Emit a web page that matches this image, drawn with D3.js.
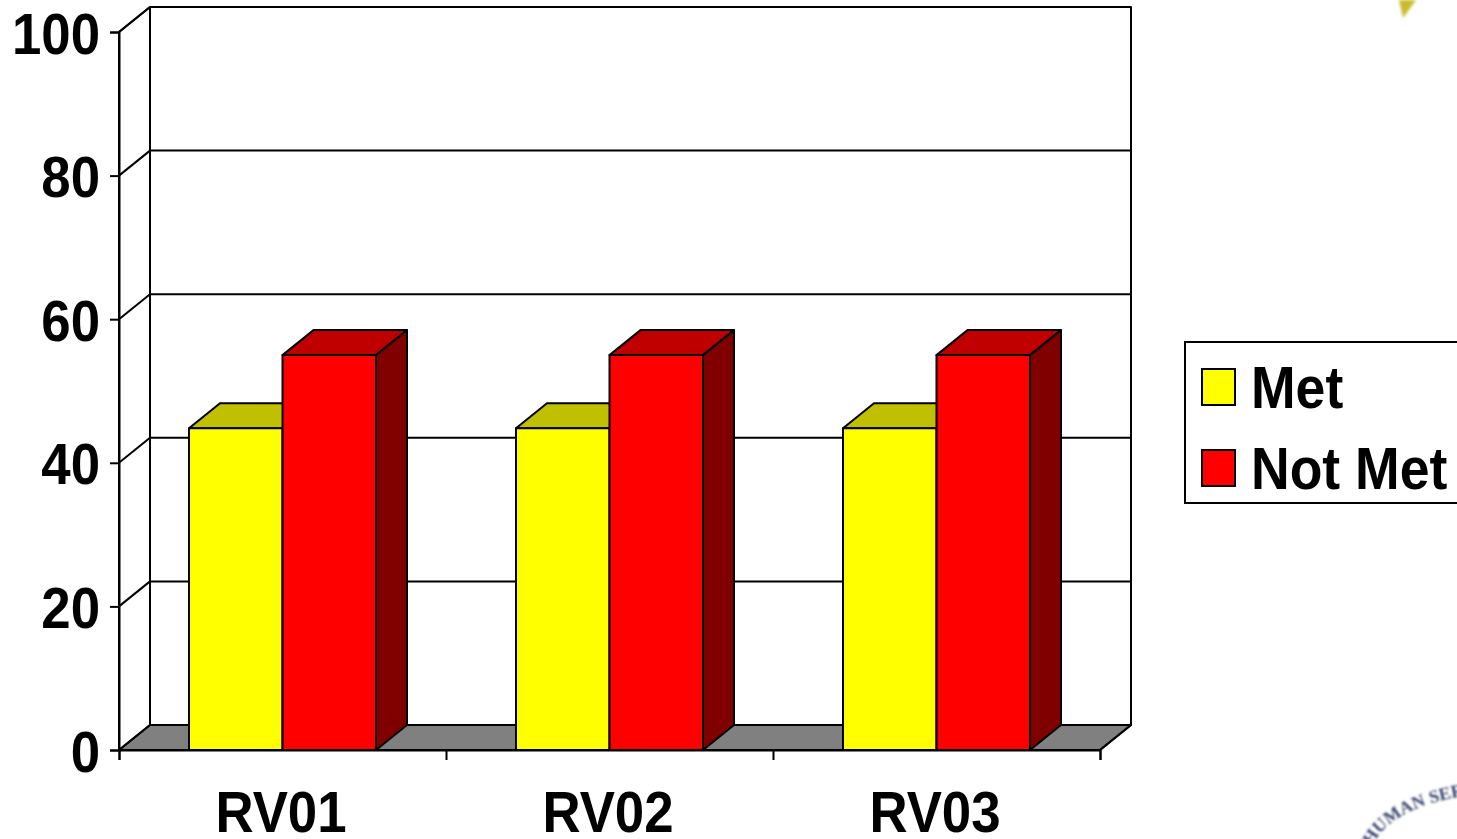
<!DOCTYPE html>
<html><head><meta charset="utf-8">
<script src="https://cdnjs.cloudflare.com/ajax/libs/d3/7.8.5/d3.min.js"></script>
<style>html,body{margin:0;padding:0;background:#fff;overflow:hidden}text{font-family:"Liberation Sans",Arial,sans-serif;font-weight:700;fill:#000}</style>
</head><body><svg id="c" width="1457" height="839"></svg>
<script>
const categories = ["RV01","RV02","RV03"];
const seriesNames = ["Met","Not Met"];
const metValues = [44.8,44.8,44.8];
const notMetValues = [55,55,55];
const yTicks = [0,20,40,60,80,100];
const seriesValues = [metValues, notMetValues];
const colors = {front:["#ffff00","#ff0000"], top:["#c0c000","#c00000"], side:["#808000","#800000"]};

const svg = d3.select("#c");
const dx = 31, dy = -25;
const y = d3.scaleLinear().domain([0,100]).range([750,32]);
const x0 = d3.scaleBand().domain(categories).range([119,1100]);
const x1 = d3.scaleBand().domain(seriesNames).range([70,257]);
const line = d3.line();
const blk = {stroke:"#000","stroke-width":2,"stroke-linejoin":"round"};
const style = (s,o)=>{for(const k in o)s.attr(k,o[k]);return s;};
const FS = 58, SX = 0.91;

const defs = svg.append("defs");
defs.append("filter").attr("id","b1").append("feGaussianBlur").attr("stdDeviation",1.6);
defs.append("filter").attr("id","b2").append("feGaussianBlur").attr("stdDeviation",1);
defs.append("path").attr("id","arc").attr("d","M1372,846 Q1392,806 1470,795");
svg.append("path").attr("d",d3.line()([[1399,0],[1416,0],[1403,18]])).attr("fill","#c9bb2c").attr("filter","url(#b1)");
svg.append("text").attr("filter","url(#b2)").style("font-family","Liberation Serif").style("font-size","18px").style("fill","#39456e")
  .append("textPath").attr("href","#arc").text("HUMAN SERV");

const x = x0.range()[0], xR = x0.range()[1];
svg.append("path").attr("d",line([[x,y(0)],[x+dx,y(0)+dy],[xR+dx,y(0)+dy],[xR,y(0)]])+"Z").attr("fill","#808080").call(style,blk);
svg.append("rect").attr("x",x+dx).attr("y",y(100)+dy).attr("width",xR-x).attr("height",y(0)-y(100)).attr("fill","#fff").call(style,blk);
yTicks.forEach(t=>{
  svg.append("path").attr("fill","none").attr("d",line([[x,y(t)],[x+dx,y(t)+dy],[xR+dx,y(t)+dy]])).call(style,blk);
});
svg.append("path").attr("fill","none").attr("d",line([[x,y(0)],[x,y(100)],[x+dx,y(100)+dy]])).call(style,blk);
svg.append("path").attr("fill","none").attr("d",line([[x+dx,y(0)+dy],[x+dx,y(100)+dy]])).call(style,blk);
svg.append("path").attr("fill","none").attr("d",line([[xR,y(0)],[xR+dx,y(0)+dy],[xR+dx,y(100)+dy]])).call(style,blk);

categories.forEach((c,ci)=>{
  seriesNames.forEach((s,si)=>{
    const l = x0(c)+x1(s), r = l+x1.bandwidth(), t = y(seriesValues[si][ci]), b = y(0);
    svg.append("path").attr("d",line([[l,t],[l+dx,t+dy],[r+dx,t+dy],[r,t]])+"Z").attr("fill",colors.top[si]).call(style,blk);
    svg.append("path").attr("d",line([[r,t],[r+dx,t+dy],[r+dx,b+dy],[r,b]])+"Z").attr("fill",colors.side[si]).call(style,blk);
    svg.append("rect").attr("x",l).attr("y",t).attr("width",r-l).attr("height",b-t).attr("fill",colors.front[si]).call(style,blk);
  });
});

const yAxis = d3.axisLeft(y).tickValues(yTicks).tickSize(9);
const gy = svg.append("g").attr("transform",`translate(${x},0)`).call(yAxis);
const xAxis = d3.axisBottom(d3.scaleLinear().domain([0,3]).range([x,xR])).tickValues([0,1,2,3]).tickSize(10).tickFormat("");
const gx = svg.append("g").attr("transform",`translate(0,${y(0)})`).call(xAxis);
[gy,gx].forEach(g=>{g.selectAll("path,line").attr("stroke","#000").attr("stroke-width",2);});
gy.selectAll("text").style("font-size",FS+"px").style("font-family","Liberation Sans").style("font-weight","700")
  .attr("fill","#000").attr("x",0).attr("dy",0).attr("text-anchor","end")
  .attr("transform",`translate(-19,21) scale(${SX},1)`);
svg.selectAll(".cat").data(categories).join("text").attr("class","cat").attr("text-anchor","middle").style("font-size",FS+"px")
  .attr("transform",c=>`translate(${x0(c)+x0.bandwidth()/2-1.5},831.5) scale(${SX},1)`).text(c=>c);

svg.append("rect").attr("x",1185).attr("y",342).attr("width",290).attr("height",161).attr("fill","#fff").attr("stroke","#000").attr("stroke-width",2);
seriesNames.forEach((s,i)=>{
  const ly = 369+81*i;
  svg.append("rect").attr("x",1202).attr("y",ly).attr("width",33).attr("height",36).attr("fill",colors.front[i]).attr("stroke","#000").attr("stroke-width",2);
  svg.append("text").attr("transform",`translate(1251,${ly+39}) scale(0.9,1)`).style("font-size","59.5px").text(s);
});
</script></body></html>
